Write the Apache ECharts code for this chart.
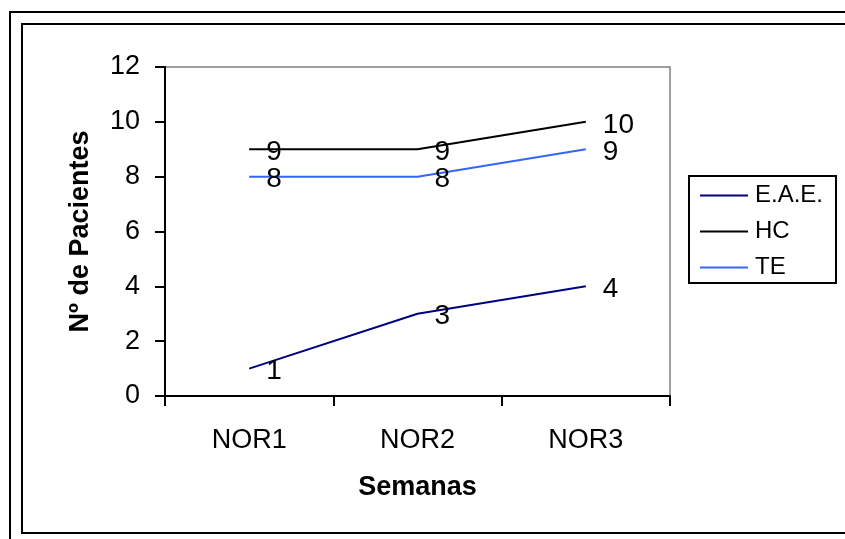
<!DOCTYPE html>
<html>
<head>
<meta charset="utf-8">
<script src="https://cdn.jsdelivr.net/npm/echarts@6/dist/echarts.min.js"></script>
<style>
  html, body { margin: 0; padding: 0; background: #fff; }
  #chart { width: 845px; height: 539px; }
</style>
</head>
<body>
<div id="chart"></div>
<script>
// Weekly patient counts per group
var categories = ['NOR1', 'NOR2', 'NOR3'];
var seriesNames = ['E.A.E.', 'HC', 'TE'];
var eaeValues = [1, 3, 4];
var hcValues = [9, 9, 10];
var teValues = [8, 8, 9];
var seriesColors = ['#000080', '#000000', '#3366FF'];

var FONT = '"Liberation Sans", Arial, sans-serif';

var chart = echarts.init(document.getElementById('chart'), null, { renderer: 'canvas' });

function lineSeries(name, data, color) {
  return {
    name: name,
    type: 'line',
    data: data,
    symbol: 'circle',
    symbolSize: 0,
    showSymbol: true,
    lineStyle: { color: color, width: 2 },
    itemStyle: { color: color },
    label: {
      show: true,
      position: 'right',
      distance: 17,
      offset: [0, 3],
      color: '#000',
      fontFamily: FONT,
      fontSize: 28,
      align: 'left',
      verticalAlign: 'middle'
    },
    emphasis: { disabled: true },
    animation: false
  };
}

chart.setOption({
  animation: false,
  backgroundColor: '#fff',
  grid: {
    left: 165, right: 175, top: 67, bottom: 143,
    show: true, borderColor: '#808080', borderWidth: 1.5, backgroundColor: 'transparent'
  },
  legend: {
    orient: 'vertical',
    left: 700,
    top: 183,
    padding: 0,
    itemWidth: 48,
    itemHeight: 2,
    itemGap: 11,
    icon: 'rect',
    textStyle: { fontFamily: FONT, fontSize: 24, color: '#000', lineHeight: 25, padding: [0, 0, 0, 2] },
    data: seriesNames
  },
  xAxis: {
    type: 'category',
    data: categories,
    boundaryGap: true,
    axisLine: { lineStyle: { color: '#000', width: 2 } },
    axisTick: { show: true, length: 10, lineStyle: { color: '#000', width: 2 } },
    axisLabel: { color: '#000', fontFamily: FONT, fontSize: 27, margin: 31 },
    name: 'Semanas',
    nameLocation: 'middle',
    nameGap: 78,
    nameTextStyle: { color: '#000', fontFamily: FONT, fontSize: 27, fontWeight: 'bold', verticalAlign: 'top' }
  },
  yAxis: {
    type: 'value',
    min: 0,
    max: 12,
    interval: 2,
    splitLine: { show: false },
    axisLine: { show: true, lineStyle: { color: '#000', width: 2 } },
    axisTick: { show: true, length: 10, lineStyle: { color: '#000', width: 2 } },
    axisLabel: { color: '#000', fontFamily: FONT, fontSize: 27, margin: 25 },
    name: 'Nº de Pacientes',
    nameLocation: 'middle',
    nameGap: 71,
    nameRotate: 90,
    nameTextStyle: { color: '#000', fontFamily: FONT, fontSize: 27, fontWeight: 'bold' }
  },
  series: [
    lineSeries(seriesNames[0], eaeValues, seriesColors[0]),
    lineSeries(seriesNames[1], hcValues, seriesColors[1]),
    lineSeries(seriesNames[2], teValues, seriesColors[2])
  ],
  graphic: [
    // outer frame (continues past the right and bottom edges)
    { type: 'rect', shape: { x: 10, y: 12, width: 900, height: 600 },
      style: { fill: 'none', stroke: '#000', lineWidth: 2 }, silent: true },
    // inner frame
    { type: 'rect', shape: { x: 22, y: 24, width: 900, height: 509 },
      style: { fill: 'none', stroke: '#000', lineWidth: 2 }, silent: true },
    // legend box
    { type: 'rect', shape: { x: 689, y: 176, width: 147, height: 107 },
      style: { fill: 'none', stroke: '#000', lineWidth: 2 }, silent: true }
  ]
});
</script>
</body>
</html>
